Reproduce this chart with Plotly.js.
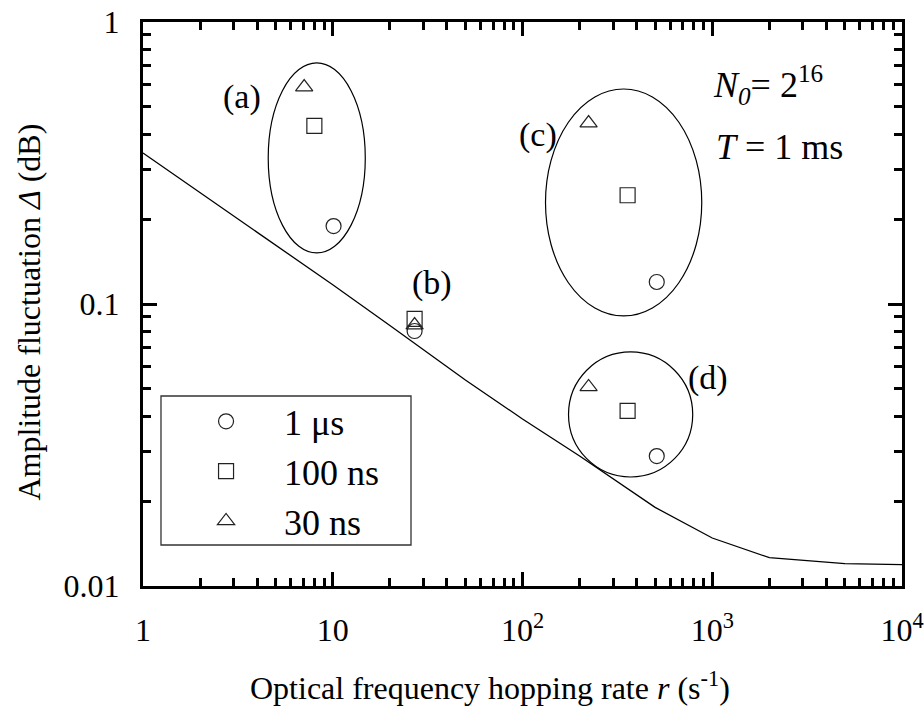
<!DOCTYPE html>
<html>
<head>
<meta charset="utf-8">
<script src="https://cdn.plot.ly/plotly-3.0.1.min.js"></script>
<style>
  html, body { margin: 0; padding: 0; background: #ffffff; }
  #chart { width: 924px; height: 718px; }
</style>
</head>
<body>
<div id="chart"></div>
<script>
// Theoretical amplitude fluctuation versus hopping rate (N0 = 2^16, T = 1 ms)
const curveRate  = [1, 2, 5, 10, 20, 50, 100, 200, 500, 1000, 2000, 5000, 10000];
const curveDelta = [0.343, 0.248, 0.161, 0.117, 0.0839, 0.0538, 0.0391, 0.0289, 0.0190, 0.0148, 0.0126, 0.0120, 0.0119];

// Measured points, groups (a)-(d), for three switching times
const rate1us   = [10.1, 27, 510, 510];
const delta1us  = [0.189, 0.0802, 0.1197, 0.0289];
const rate100ns  = [8.0, 27, 358, 358];
const delta100ns = [0.428, 0.0886, 0.243, 0.0418];
const rate30ns   = [7.07, 27, 223, 223];
const delta30ns  = [0.588, 0.0842, 0.438, 0.0508];

const seriesNames = ['1 \u03bcs', '100 ns', '30 ns'];

const xTickVals = [1, 10, 100, 1000, 10000];
const xTickText = ['1', '10', '10<sup>2</sup>', '10<sup>3</sup>', '10<sup>4</sup>'];
const yTickVals = [0.01, 0.1, 1];
const yTickText = ['0.01', '0.1', '1'];

const xTitle = 'Optical frequency hopping rate <i>r</i> (s<sup>-1</sup>)';
const yTitle = 'Amplitude fluctuation <i>\u0394</i> (dB)';

const serif = '"Times New Roman", "Liberation Serif", Tinos, "DejaVu Serif", serif';
const ink = '#000000';

const markerLine = { color: '#222222', width: 1.2 };

const traces = [
  {
    x: curveRate, y: curveDelta, mode: 'lines', showlegend: false,
    line: { color: ink, width: 1.3 }, hoverinfo: 'skip'
  },
  {
    x: rate1us, y: delta1us, mode: 'markers', name: seriesNames[0], legendgroup: 'g1',
    marker: { symbol: 'circle-open', size: 15, line: markerLine, color: '#222222' }
  },
  {
    x: rate100ns, y: delta100ns, mode: 'markers', name: seriesNames[1], legendgroup: 'g2',
    marker: { symbol: 'square-open', size: 15, line: markerLine, color: '#222222' }
  },
  {
    x: rate30ns, y: delta30ns, mode: 'markers', name: seriesNames[2], legendgroup: 'g3',
    marker: { symbol: 'triangle-up-open', size: 15, line: markerLine, color: '#222222' }
  }
];

const axisCommon = {
  type: 'log',
  showgrid: false,
  zeroline: false,
  showline: true,
  linecolor: ink,
  linewidth: 3,
  mirror: 'ticks',
  ticks: 'inside',
  ticklen: 14,
  tickwidth: 3,
  tickcolor: ink,
  tickmode: 'array',
  minor: { tickmode: 'linear', tick0: 0, dtick: 'D1', ticks: 'inside', ticklen: 8, tickwidth: 3, tickcolor: ink, showgrid: false },
  tickfont: { family: serif, size: 32, color: ink }
};

const groupLabel = (text, x, y) => ({
  text: text, xref: 'x', yref: 'y', x: Math.log10(x), y: Math.log10(y),
  showarrow: false, font: { family: serif, size: 34, color: ink }
});

const layout = {
  width: 924,
  height: 718,
  margin: { l: 143, r: 22, t: 22, b: 132 },
  paper_bgcolor: '#ffffff',
  plot_bgcolor: '#ffffff',
  font: { family: serif, color: ink },
  xaxis: Object.assign({}, axisCommon, {
    range: [0, 4],
    tickvals: xTickVals,
    ticktext: xTickText,
    ticklabelstandoff: 14
  }),
  yaxis: Object.assign({}, axisCommon, {
    range: [-2, 0],
    tickvals: yTickVals,
    ticktext: yTickText,
    ticklabelstandoff: 14
  }),
  showlegend: true,
  legend: {
    x: 0.033, y: 0.345, xanchor: 'left', yanchor: 'top',
    bgcolor: 'rgba(0,0,0,0)', borderwidth: 0,
    font: { family: serif, size: 36, color: ink },
    itemwidth: 106,
    tracegroupgap: 0
  },
  shapes: [
    // legend frame
    { type: 'rect', xref: 'paper', yref: 'paper', x0: 0.0237, x1: 0.3531, y0: 0.0727, y1: 0.3369,
      line: { color: '#333333', width: 1.3 }, fillcolor: 'rgba(0,0,0,0)' },
    // group outlines
    { type: 'circle', xref: 'x', yref: 'y', x0: 4.57, x1: 14.84, y0: 0.1517, y1: 0.716,
      line: { color: ink, width: 1.2 } },
    { type: 'circle', xref: 'x', yref: 'y', x0: 132.2, x1: 880.5, y0: 0.0907, y1: 0.5786,
      line: { color: ink, width: 1.2 } },
    { type: 'circle', xref: 'x', yref: 'y', x0: 174.8, x1: 789, y0: 0.02435, y1: 0.0676,
      line: { color: ink, width: 1.2 } }
  ],
  annotations: [
    // axis titles
    { text: xTitle, xref: 'paper', yref: 'paper', x: 0.457, y: -0.178,
      xanchor: 'center', yanchor: 'middle', showarrow: false,
      font: { family: serif, size: 32, color: ink } },
    { text: yTitle, xref: 'paper', yref: 'paper', x: -0.150, y: 0.485, textangle: -90,
      xanchor: 'center', yanchor: 'middle', showarrow: false,
      font: { family: serif, size: 32, color: ink } },
    // group labels
    groupLabel('(a)', 3.33, 0.542),
    groupLabel('(b)', 33.5, 0.1187),
    groupLabel('(c)', 120, 0.397),
    groupLabel('(d)', 946, 0.0547),
    // simulation parameters
    { text: '<i>N</i><sub><i>0</i></sub>= 2<sup>16</sup>', xref: 'paper', yref: 'paper',
      x: 0.749, y: 0.888, xanchor: 'left', yanchor: 'middle', showarrow: false,
      font: { family: serif, size: 36, color: ink } },
    { text: '<i>T</i> = 1 ms', xref: 'paper', yref: 'paper',
      x: 0.752, y: 0.778, xanchor: 'left', yanchor: 'middle', showarrow: false,
      font: { family: serif, size: 36, color: ink } }
  ]
};

Plotly.newPlot('chart', traces, layout, { displayModeBar: false, staticPlot: true });
</script>
</body>
</html>
